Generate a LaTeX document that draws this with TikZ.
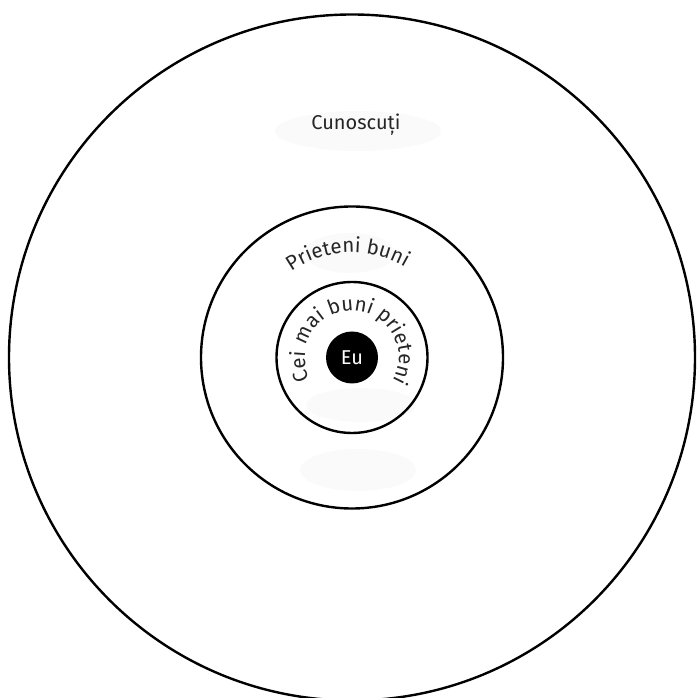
\documentclass[tikz,border=0pt]{standalone}
\usepackage{fontspec}
\setmainfont{Fira Sans}
\usetikzlibrary{calc,decorations.text}

\begin{document}
\begin{tikzpicture}[x=1pt, y=1pt,
    ring/.style={circle, draw=black, line width=2.4pt, inner sep=0pt},
    me/.style={circle, fill=black, text=white, inner sep=0pt, minimum size=52pt, font=\fontsize{20}{24}\selectfont},
    label/.style={font=\fontsize{20}{24}\selectfont, text=black!85},
    smudge/.style={fill=black!2, draw=none}
]
\useasboundingbox (0,0) rectangle (696,698);
\coordinate (c) at (352,340.5);

% Faint background patches
\fill[smudge] (358,567) ellipse [x radius=83, y radius=20];
\fill[smudge] (350,445) ellipse [x radius=45, y radius=20];
\fill[smudge] (361,293) ellipse [x radius=55, y radius=17];
\fill[smudge] (358,228) ellipse [x radius=58, y radius=21];

% Main circles
\node[ring, minimum size=686pt] (known) at (c) {};
\node[ring, minimum size=302pt] (good) at (c) {};
\node[ring, minimum size=151pt] (best) at (c) {};
\node[me] (eu) at (c) {Eu};

% Labels
\node[label] (cunoscuti) at (356,573) {Cunoscuți};
\path[decorate, decoration={text along path, text align=center,
    text={|\fontsize{20.5}{24}\selectfont\color{black!85}|Prieteni buni}}]
    ($(c)+(152.5:105)$) arc[start angle=152.5, end angle=32.5, radius=105];
\path[decorate, decoration={text along path, text align=center,
    text={|\fontsize{20.5}{24}\selectfont\color{black!85}|Cei mai buni prieteni}}]
    ($(c)+(215:47)$) arc[start angle=215, end angle=-38, radius=47];

\end{tikzpicture}
\end{document}
